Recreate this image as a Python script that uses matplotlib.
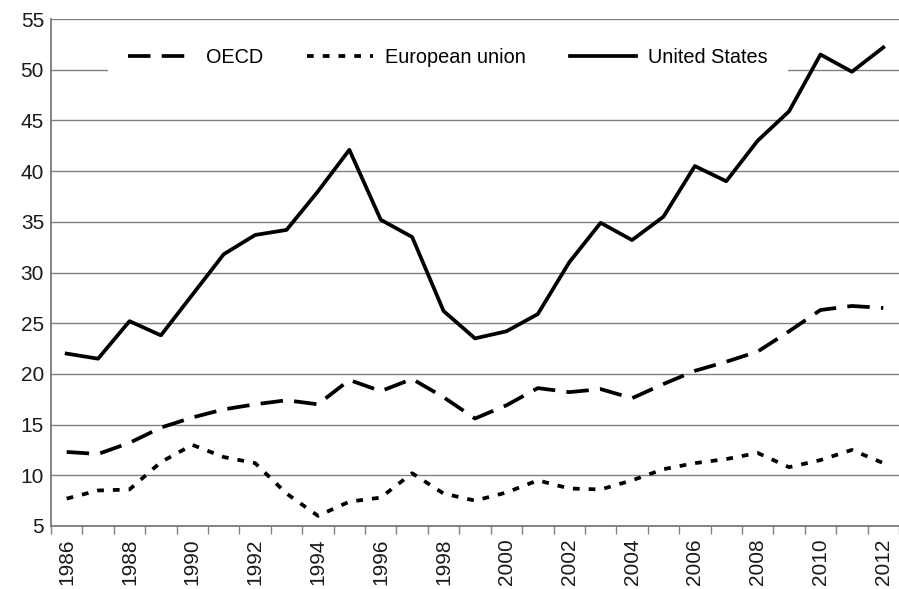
import matplotlib.pyplot as plt
import numpy as np

plt.rcParams['font.family'] = ['Liberation Sans', 'DejaVu Sans']

years = list(range(1986, 2013))
us = [22.0, 21.5, 25.2, 23.8, 27.8, 31.8, 33.7, 34.2, 38.0, 42.1, 35.2, 33.5, 26.2, 23.5,
      24.2, 25.9, 31.0, 34.9, 33.2, 35.5, 40.5, 39.0, 43.0, 45.9, 51.5, 49.8, 52.2]
oecd = [12.3, 12.1, 13.2, 14.7, 15.7, 16.5, 17.0, 17.4, 17.0, 19.4, 18.3, 19.5, 17.7, 15.6,
        16.9, 18.6, 18.2, 18.5, 17.6, 19.0, 20.3, 21.2, 22.2, 24.2, 26.3, 26.7, 26.5]
eu = [7.7, 8.5, 8.6, 11.3, 13.0, 11.8, 11.2, 8.2, 6.0, 7.4, 7.8, 10.2, 8.2, 7.5,
      8.3, 9.5, 8.7, 8.6, 9.5, 10.6, 11.2, 11.6, 12.2, 10.8, 11.5, 12.5, 11.2]

x = np.arange(len(years))

fig = plt.figure(figsize=(8.99, 5.89), dpi=100)
ax = fig.add_axes([0.0567, 0.107, 0.9433, 0.8607])

for yv in range(10, 56, 5):
    ax.axhline(yv, color='#808080', lw=1, zorder=1)

ax.plot(x, oecd, color='black', lw=2.7, dashes=(6.0, 3.0), label='OECD', zorder=3)
ax.plot(x, eu, color='black', lw=2.7, dashes=(1.8, 2.4), label='European union', zorder=3)
ax.plot(x, us, color='black', lw=2.7, label='United States', zorder=3)

ax.set_xlim(-0.5, len(years) - 0.5)
ax.set_ylim(5, 55)
ax.set_yticks(range(5, 56, 5))
ax.tick_params(axis='y', length=0, labelsize=15, pad=5, colors='#1a1a1a')

# boundary ticks on category axis, labels every second year in the middle
ax.set_xticks(np.arange(-0.5, len(years), 1.0))
ax.set_xticklabels([])
ax.tick_params(axis='x', which='major', length=6, color='#808080', width=1)
ax.set_xticks(x[::2], minor=True)
ax.set_xticklabels([str(y) for y in years[::2]], minor=True, rotation=90)
ax.tick_params(axis='x', which='minor', length=0, labelsize=15, pad=9, colors='#1a1a1a')

for s in ['top', 'right']:
    ax.spines[s].set_visible(False)
for s in ['left', 'bottom']:
    ax.spines[s].set_color('#707070')
    ax.spines[s].set_linewidth(1.2)

leg = ax.legend(loc='center', bbox_to_anchor=(0.468, 0.925), ncol=3, frameon=True,
                fontsize=14.3, handlelength=3.3, handletextpad=0.65, columnspacing=2.2,
                borderpad=1.0, borderaxespad=0)
leg.get_frame().set_facecolor('white')
leg.get_frame().set_edgecolor('none')
leg.get_frame().set_alpha(1)
leg.get_frame().set_boxstyle('square', pad=0)
leg.set_zorder(2)

fig.savefig('out.png', dpi=100)
